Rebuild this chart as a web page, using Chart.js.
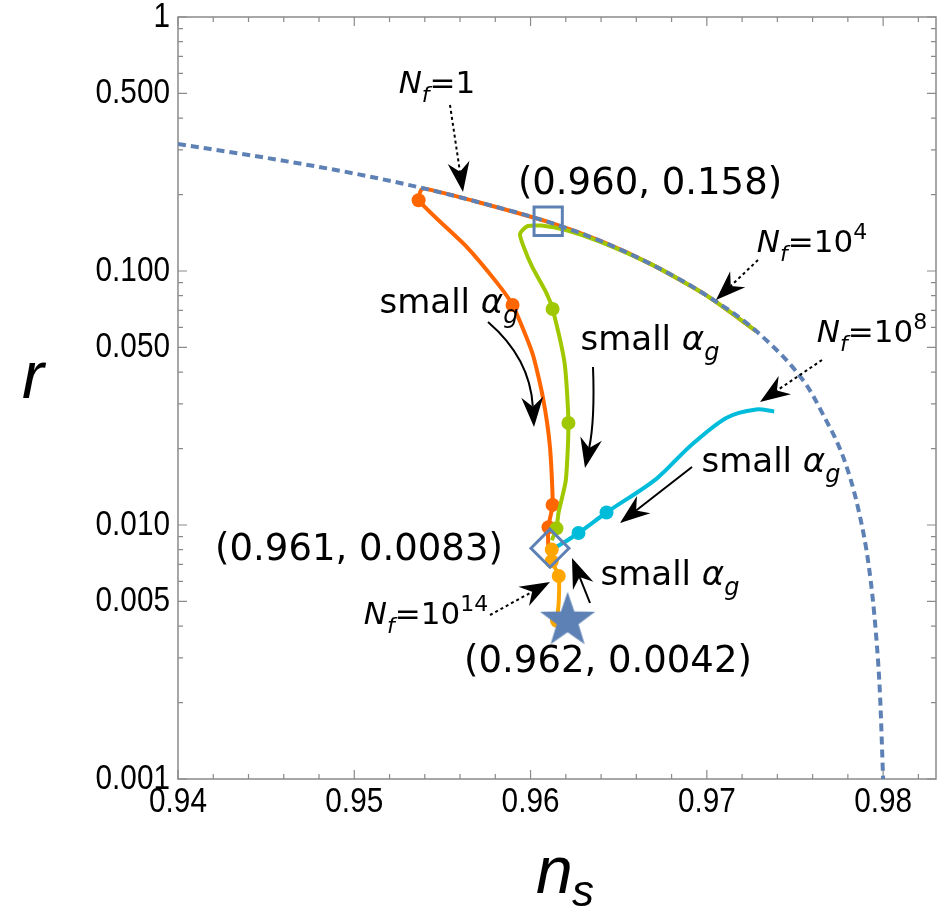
<!DOCTYPE html>
<html>
<head>
<meta charset="utf-8">
<script src="https://cdn.jsdelivr.net/npm/chart.js@4.4.0/dist/chart.umd.min.js"></script>
<style>
  html, body { margin: 0; padding: 0; background: #fff; }
  canvas { display: block; }
</style>
</head>
<body>
<canvas id="chart" width="937" height="913"></canvas>
<script>
// tick labels
const xTicks = [0.94, 0.95, 0.96, 0.97, 0.98];
const yTicks = [0.001, 0.005, 0.01, 0.05, 0.1, 0.5, 1];

// dashed boundary curve
const boundX = [0.9400, 0.9450, 0.9500, 0.9540, 0.9570, 0.9610, 0.9640, 0.9670, 0.9700, 0.9728, 0.9756, 0.9765, 0.9778, 0.9786, 0.9792, 0.9796, 0.97983, 0.9800];
const boundR = [0.316, 0.279, 0.242, 0.211, 0.187, 0.156, 0.131, 0.105, 0.080, 0.058, 0.036, 0.028, 0.018, 0.0115, 0.0068, 0.0037, 0.0021, 0.0010];

// N_f = 1 (orange)
const nf1X = [0.9728, 0.9700, 0.9670, 0.9640, 0.9610, 0.9570, 0.9540, 0.9538, 0.95365, 0.9564, 0.9581, 0.95898, 0.9601, 0.9607, 0.9611, 0.96125, 0.9610, 0.9610];
const nf1R = [0.058, 0.080, 0.105, 0.131, 0.156, 0.187, 0.211, 0.209, 0.190, 0.124, 0.0898, 0.0735, 0.0476, 0.0318, 0.0203, 0.0120, 0.0098, 0.0083];
const nf1DotX = [0.95365, 0.95898, 0.96125, 0.96102];
const nf1DotR = [0.190, 0.0735, 0.0120, 0.0098];

// N_f = 10^4 (green)
const nf4X = [0.9728, 0.9700, 0.9670, 0.9640, 0.9620, 0.9606, 0.9598, 0.9594, 0.9596, 0.9601, 0.9609, 0.96125, 0.96193, 0.96215, 0.9620, 0.96159, 0.96147, 0.9612];
const nf4R = [0.058, 0.080, 0.105, 0.130, 0.145, 0.151, 0.150, 0.140, 0.125, 0.1035, 0.0819, 0.0709, 0.0434, 0.0252, 0.0150, 0.0112, 0.0097, 0.0087];
const nf4DotX = [0.96125, 0.96215, 0.96147];
const nf4DotR = [0.0709, 0.0252, 0.0097];

// N_f = 10^8 (cyan)
const nf8X = [0.97382, 0.9728, 0.9711, 0.9690, 0.96714, 0.96431, 0.96272, 0.9616, 0.9612];
const nf8R = [0.0280, 0.0285, 0.0264, 0.0203, 0.0152, 0.0112, 0.0093, 0.0083, 0.0081];
const nf8DotX = [0.96431, 0.96272];
const nf8DotR = [0.0112, 0.0093];

// N_f = 10^14 (gold)
const nf14X = [0.9610, 0.9612, 0.9616, 0.9616, 0.9615];
const nf14R = [0.0083, 0.0072, 0.0063, 0.0050, 0.0042];
const nf14DotX = [0.9612, 0.9612, 0.9616, 0.9615];
const nf14DotR = [0.0080, 0.0072, 0.0063, 0.0042];

// marked points
const squareX = [0.9610], squareR = [0.157];
const diamondX = [0.9611], diamondR = [0.0081];
const starX = [0.9621], starR = [0.0042];

const BLUE = '#5E81B5';
const ORANGE = '#FF6600';
const GREEN = '#A0C800';
const CYAN = '#00BCDB';
const GOLD = '#FFA500';

const pts = (xs, ys) => xs.map((x, i) => ({ x, y: ys[i] }));
const curve = (xs, ys, color, order, extra) => ({
  data: pts(xs, ys), showLine: true, borderColor: color, borderWidth: 4,
  pointRadius: 0, tension: 0.2, order, ...extra
});
const dots = (xs, ys, color, order) => ({
  data: pts(xs, ys), showLine: false, pointRadius: 7, backgroundColor: color, borderWidth: 0, order
});

// filled five-point star marker
const starImg = document.createElement('canvas');
starImg.width = starImg.height = 60;
(() => {
  const c = starImg.getContext('2d');
  c.fillStyle = BLUE;
  c.beginPath();
  for (let k = 0; k < 10; k++) {
    const rad = k % 2 ? 11.5 : 29;
    const a = -Math.PI / 2 + k * Math.PI / 5;
    c.lineTo(30 + rad * Math.cos(a), 30 + rad * Math.sin(a));
  }
  c.closePath();
  c.fill();
})();

const SANS = "'DejaVu Sans', sans-serif";
const TICK_FONT = "35px 'Liberation Sans', sans-serif";
const sm = () => [{ t: 'small ' }, { t: 'α', it: true }, { t: 'g', it: true, sub: true }];
const nf = (val, sup) => {
  const p = [{ t: 'N', it: true }, { t: 'f', it: true, sub: true }, { t: '=' + val }];
  if (sup) p.push({ t: sup, sup: true });
  return p;
};

// text labels: parts, center x, baseline y, size
const labels = [
  { parts: nf('1'), x: 437, y: 93, size: 31 },
  { parts: [{ t: '(0.960, 0.158)' }], x: 650, y: 194, size: 37 },
  { parts: nf('10', '4'), x: 812, y: 252, size: 31 },
  { parts: sm(), x: 449, y: 313, size: 34 },
  { parts: sm(), x: 650, y: 350, size: 34 },
  { parts: nf('10', '8'), x: 872, y: 342, size: 31 },
  { parts: sm(), x: 771, y: 472, size: 34 },
  { parts: [{ t: '(0.961, 0.0083)' }], x: 359, y: 560, size: 37 },
  { parts: sm(), x: 670, y: 585, size: 34 },
  { parts: nf('10', '14'), x: 426, y: 624, size: 31 },
  { parts: [{ t: '(0.962, 0.0042)' }], x: 608, y: 672, size: 37 }
];

// arrows: from, optional control point, tip
const arrows = [
  { from: [450, 105], to: [463, 192], dotted: true },
  { from: [758, 260], to: [716, 300], dotted: true },
  { from: [822, 360], to: [760, 402], dotted: true },
  { from: [490, 615], to: [550, 582], dotted: true },
  { from: [488, 322], ctrl: [530, 358], to: [534, 427] },
  { from: [593, 367], ctrl: [595, 420], to: [585, 468] },
  { from: [692, 467], to: [620, 523] },
  { from: [590, 603], to: [572, 558] }
];

function drawRich(ctx, parts, cx, by, size) {
  const fontOf = p => `${p.it ? 'italic ' : ''}${p.sub || p.sup ? Math.round(size * 0.7) : size}px ${SANS}`;
  let w = 0;
  parts.forEach(p => { ctx.font = fontOf(p); p.w = ctx.measureText(p.t).width; w += p.w; });
  let x = cx - w / 2;
  ctx.textAlign = 'left';
  ctx.textBaseline = 'alphabetic';
  parts.forEach(p => {
    ctx.font = fontOf(p);
    const dy = p.sub ? size * 0.28 : p.sup ? -size * 0.42 : 0;
    ctx.fillText(p.t, x, by + dy);
    x += p.w;
  });
}

function drawArrow(ctx, a) {
  const [x0, y0] = a.from, [x1, y1] = a.to;
  const [cx, cy] = a.ctrl || a.from;
  let dx = x1 - cx, dy = y1 - cy;
  const len = Math.hypot(dx, dy);
  dx /= len; dy /= len;
  const L = 30, W = 11;
  const nx = x1 - dx * L * 0.68, ny = y1 - dy * L * 0.68;
  ctx.save();
  ctx.strokeStyle = '#000';
  ctx.lineWidth = 2;
  if (a.dotted) ctx.setLineDash([3, 3]);
  ctx.beginPath();
  ctx.moveTo(x0, y0);
  if (a.ctrl) ctx.quadraticCurveTo(cx, cy, nx, ny); else ctx.lineTo(nx, ny);
  ctx.stroke();
  ctx.setLineDash([]);
  ctx.fillStyle = '#000';
  ctx.beginPath();
  ctx.moveTo(x1, y1);
  ctx.lineTo(x1 - dx * L - dy * W, y1 - dy * L + dx * W);
  ctx.lineTo(nx, ny);
  ctx.lineTo(x1 - dx * L + dy * W, y1 - dy * L - dx * W);
  ctx.closePath();
  ctx.fill();
  ctx.restore();
}

// narrow tick text, like the reference's condensed face
function narrowText(ctx, text, x, y, align) {
  ctx.save();
  ctx.translate(x, y);
  ctx.scale(0.85, 1);
  ctx.textAlign = align;
  ctx.fillText(text, 0, 0);
  ctx.restore();
}

const framePlugin = {
  id: 'frame',
  beforeDatasetsDraw(chart) {
    const { ctx, chartArea: a, scales: { x, y } } = chart;
    ctx.save();
    ctx.strokeStyle = '#8a8a8a';
    ctx.lineWidth = 1.5;
    ctx.strokeRect(a.left, a.top, a.right - a.left, a.bottom - a.top);
    ctx.lineWidth = 1.2;
    ctx.beginPath();
    for (let i = 470; i <= 491; i++) {
      const px = x.getPixelForValue(i / 500);
      const len = i % 5 === 0 ? 9 : 5;
      ctx.moveTo(px, a.bottom); ctx.lineTo(px, a.bottom - len);
      ctx.moveTo(px, a.top); ctx.lineTo(px, a.top + len);
    }
    for (let e = -3; e <= 0; e++) {
      for (let m = 1; m <= 9; m++) {
        const v = m * Math.pow(10, e);
        if (v > 1) break;
        const py = y.getPixelForValue(v);
        const len = (m === 1 || m === 5) ? 9 : 5;
        ctx.moveTo(a.left, py); ctx.lineTo(a.left + len, py);
        ctx.moveTo(a.right, py); ctx.lineTo(a.right - len, py);
      }
    }
    ctx.stroke();

    // tick labels
    ctx.fillStyle = '#000';
    ctx.font = TICK_FONT;
    ctx.textBaseline = 'middle';
    xTicks.forEach(v => narrowText(ctx, v.toFixed(2), x.getPixelForValue(v), a.bottom + 23, 'center'));
    yTicks.forEach(v => narrowText(ctx, v === 1 ? '1' : v.toFixed(3), a.left - 8, y.getPixelForValue(v), 'right'));
    ctx.restore();
  },
  afterDraw(chart) {
    const { ctx } = chart;
    ctx.save();
    ctx.fillStyle = '#000';
    labels.forEach(l => drawRich(ctx, l.parts, l.x, l.y, l.size));
    arrows.forEach(a => drawArrow(ctx, a));
    // axis titles
    ctx.font = "italic 66px 'Liberation Sans', sans-serif";
    ctx.textAlign = 'center';
    ctx.textBaseline = 'alphabetic';
    ctx.fillText('r', 33, 398);
    ctx.textAlign = 'left';
    ctx.fillText('n', 536, 893);
    ctx.font = "italic 44px 'Liberation Sans', sans-serif";
    ctx.fillText('s', 572, 906);
    ctx.restore();
  }
};

new Chart(document.getElementById('chart'), {
  type: 'scatter',
  data: {
    datasets: [
      { data: pts(starX, starR), pointStyle: starImg, pointRadius: 28, order: 0 },
      { data: pts(diamondX, diamondR), pointStyle: 'rectRot', pointRadius: 19, borderColor: BLUE, borderWidth: 3, backgroundColor: 'rgba(0,0,0,0)', order: 1 },
      { data: pts(squareX, squareR), pointStyle: 'rect', pointRadius: 20, borderColor: BLUE, borderWidth: 3, backgroundColor: 'rgba(0,0,0,0)', order: 2 },
      curve(boundX, boundR, BLUE, 3, { borderDash: [8, 5], cubicInterpolationMode: 'monotone' }),
      dots(nf14DotX, nf14DotR, GOLD, 4),
      curve(nf14X, nf14R, GOLD, 5),
      dots(nf8DotX, nf8DotR, CYAN, 6),
      curve(nf8X, nf8R, CYAN, 7, { tension: 0.3 }),
      dots(nf4DotX, nf4DotR, GREEN, 8),
      curve(nf4X, nf4R, GREEN, 9),
      dots(nf1DotX, nf1DotR, ORANGE, 10),
      curve(nf1X, nf1R, ORANGE, 11)
    ]
  },
  options: {
    responsive: false,
    animation: false,
    layout: { autoPadding: false, padding: { top: 17, right: 1, bottom: 0, left: 0 } },
    plugins: { legend: { display: false }, tooltip: { enabled: false } },
    scales: {
      x: {
        type: 'linear', min: 0.94, max: 0.983,
        grid: { display: false }, border: { display: false },
        afterBuildTicks: s => { s.ticks = xTicks.map(v => ({ value: v })); },
        afterFit: s => { s.height = 134; },
        ticks: { display: false }
      },
      y: {
        type: 'logarithmic', min: 0.001, max: 1,
        grid: { display: false }, border: { display: false },
        afterBuildTicks: s => { s.ticks = yTicks.map(v => ({ value: v })); },
        afterFit: s => { s.width = 178; },
        ticks: { display: false }
      }
    }
  },
  plugins: [framePlugin]
});
</script>
</body>
</html>
